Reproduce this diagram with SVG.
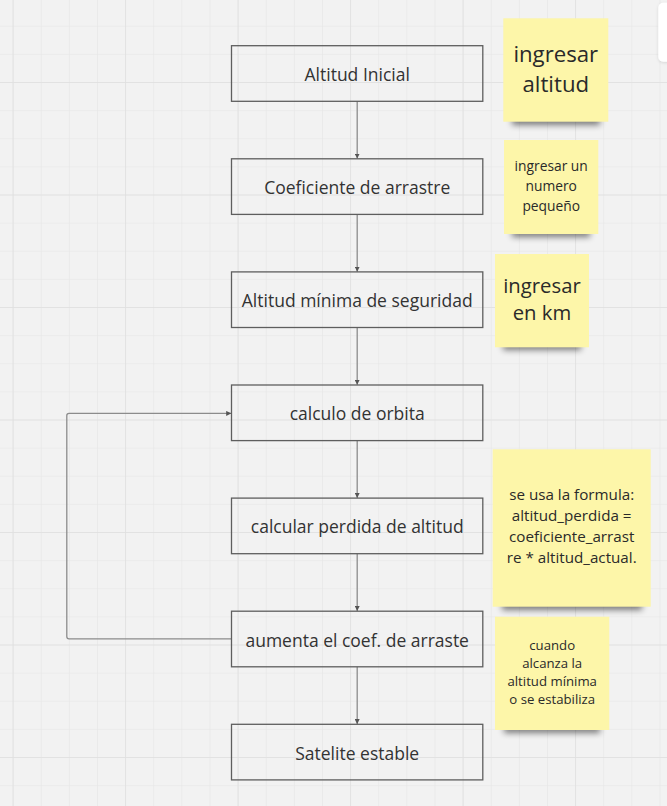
<svg xmlns="http://www.w3.org/2000/svg" width="667" height="806" viewBox="0 0 667 806">
<style>
.box{fill:none;stroke:#5e5e5e;stroke-width:1.3}
.bt{font-family:"Open Sans","Noto Sans","Liberation Sans",sans-serif;font-size:17.5px;fill:#333;text-anchor:middle}
.conn{fill:none;stroke:#8c8c8c;stroke-width:1.3}
.note{fill:#fdf6a9}
.nt{font-family:"Open Sans","Noto Sans","Liberation Sans",sans-serif;fill:#2a2a2a;text-anchor:middle}
.shadow{fill:#000;opacity:0.5;filter:url(#blur)}
</style>
<defs>
<pattern id="minor" x="12.6" y="-30.5" width="28.125" height="28.125" patternUnits="userSpaceOnUse">
<path d="M0 0H28.125M0 0V28.125" fill="none" stroke="#e6e6e6" stroke-width="1.2"/>
</pattern>
<pattern id="major" x="12.6" y="-30.5" width="112.5" height="112.5" patternUnits="userSpaceOnUse">
<path d="M0 0H112.5M0 0V112.5" fill="none" stroke="#e0e0e0" stroke-width="1.6"/>
</pattern>
<filter id="blur" x="-20%" y="-100%" width="140%" height="300%"><feGaussianBlur stdDeviation="3"/></filter>
<filter id="wsh" x="-50%" y="-50%" width="200%" height="200%"><feDropShadow dx="0" dy="1" stdDeviation="1.5" flood-color="#000" flood-opacity="0.12"/></filter>
<marker id="arr" viewBox="0 0 10 10" refX="10" refY="5" markerWidth="5" markerHeight="5" orient="auto" markerUnits="userSpaceOnUse">
<path d="M0 0L10 5L0 10z" fill="#555"/>
</marker>
</defs>
<rect x="0" y="0" width="667" height="806" fill="#f2f2f2"/>
<rect x="0" y="0" width="667" height="806" fill="url(#minor)"/>
<rect x="0" y="0" width="667" height="806" fill="url(#major)"/>

<rect x="658.3" y="2.7" width="20" height="59" rx="5" fill="#fff" filter="url(#wsh)"/>

<g id="connectors">
<line class="conn" x1="357.2" y1="101.3" x2="357.2" y2="158.6" marker-end="url(#arr)"/>
<line class="conn" x1="357.2" y1="214.4" x2="357.2" y2="271.7" marker-end="url(#arr)"/>
<line class="conn" x1="357.2" y1="327.5" x2="357.2" y2="384.8" marker-end="url(#arr)"/>
<line class="conn" x1="357.2" y1="440.6" x2="357.2" y2="497.9" marker-end="url(#arr)"/>
<line class="conn" x1="357.2" y1="553.7" x2="357.2" y2="611.0" marker-end="url(#arr)"/>
<line class="conn" x1="357.2" y1="666.8" x2="357.2" y2="724.1" marker-end="url(#arr)"/>
<path class="conn" d="M231.5 638.8H69Q66.8 638.8 66.8 636.6V415.6Q66.8 413.4 69 413.4H231.2" marker-end="url(#arr)"/>
</g>

<g id="n1"><rect class="box" x="231.5" y="45.7" width="251.3" height="55.6"/><text class="bt" x="357.2" y="81">Altitud Inicial</text></g>
<g id="n2"><rect class="box" x="231.5" y="158.8" width="251.3" height="55.6"/><text class="bt" x="357.2" y="194.1">Coeficiente de arrastre</text></g>
<g id="n3"><rect class="box" x="231.5" y="271.9" width="251.3" height="55.6"/><text class="bt" x="357.2" y="307.2">Altitud mínima de seguridad</text></g>
<g id="n4"><rect class="box" x="231.5" y="385" width="251.3" height="55.6"/><text class="bt" x="357.2" y="420.3">calculo de orbita</text></g>
<g id="n5"><rect class="box" x="231.5" y="498.1" width="251.3" height="55.6"/><text class="bt" x="357.2" y="533.4">calcular perdida de altitud</text></g>
<g id="n6"><rect class="box" x="231.5" y="611.2" width="251.3" height="55.6"/><text class="bt" x="357.2" y="646.5">aumenta el coef. de arraste</text></g>
<g id="n7"><rect class="box" x="231.5" y="724.3" width="251.3" height="55.6"/><text class="bt" x="357.2" y="759.6">Satelite estable</text></g>

<g id="s1">
<rect class="shadow" x="512" y="116" width="88" height="9"/>
<rect class="note" x="503.3" y="18.3" width="105" height="103.4"/>
<text class="nt" font-size="22.2" x="555.8" y="61.7">ingresar</text>
<text class="nt" font-size="22.2" x="555.8" y="91.7">altitud</text>
</g>
<g id="s2">
<rect class="shadow" x="512" y="229" width="78" height="8"/>
<rect class="note" x="504" y="140" width="94.3" height="94"/>
<text class="nt" font-size="13.8" x="551.2" y="170.5">ingresar un</text>
<text class="nt" font-size="13.8" x="551.2" y="190.5">numero</text>
<text class="nt" font-size="13.8" x="551.2" y="210.5">pequeño</text>
</g>
<g id="s3">
<rect class="shadow" x="503" y="342" width="78" height="8"/>
<rect class="note" x="495" y="254" width="94" height="93.3"/>
<text class="nt" font-size="20.3" x="542" y="293.3">ingresar</text>
<text class="nt" font-size="20.3" x="542" y="320">en km</text>
</g>
<g id="s4">
<rect class="shadow" x="502" y="601" width="140" height="9"/>
<rect class="note" x="492.7" y="449.3" width="158" height="157.4"/>
<text class="nt" font-size="15.2" x="571.7" y="500">se usa la formula:</text>
<text class="nt" font-size="15.2" x="571.7" y="521">altitud_perdida =</text>
<text class="nt" font-size="15.2" x="571.7" y="541.7">coeficiente_arrast</text>
<text class="nt" font-size="15.2" x="571.7" y="562.5">re * altitud_actual.</text>
</g>
<g id="s5">
<rect class="shadow" x="504" y="725" width="96" height="8"/>
<rect class="note" x="495" y="616.7" width="114.3" height="113.3"/>
<text class="nt" font-size="13.2" x="552.2" y="649.5">cuando</text>
<text class="nt" font-size="13.2" x="552.2" y="667.5">alcanza la</text>
<text class="nt" font-size="13.2" x="552.2" y="685.5">altitud mínima</text>
<text class="nt" font-size="13.2" x="552.2" y="703.5">o se estabiliza</text>
</g>
</svg>
